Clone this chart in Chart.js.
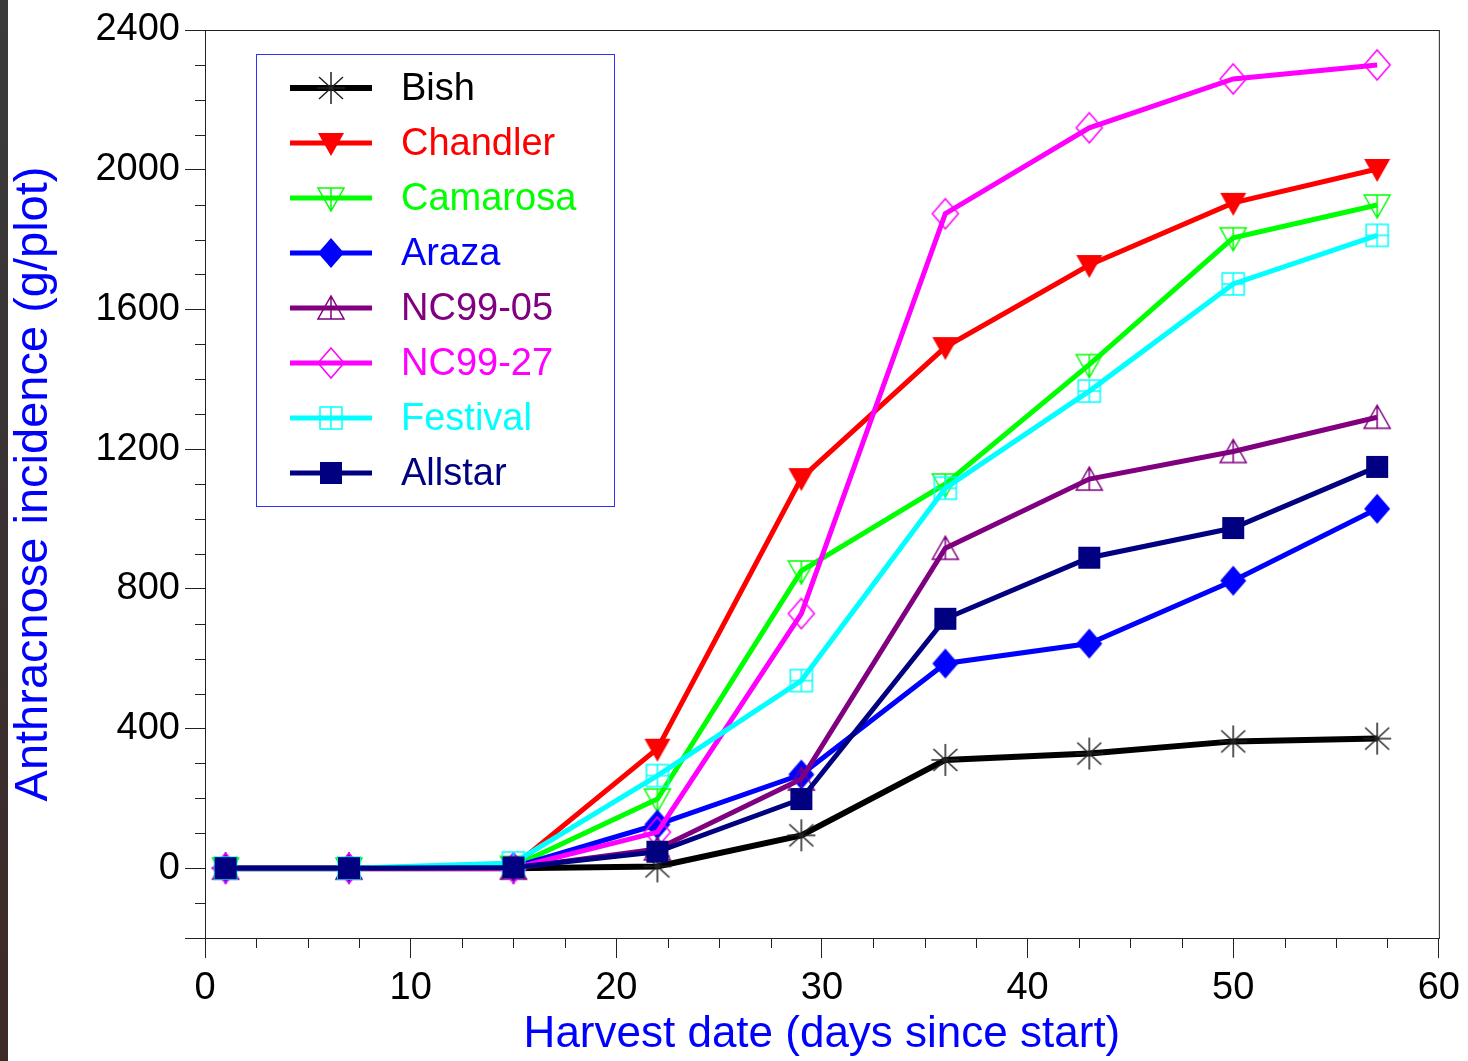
<!DOCTYPE html>
<html>
<head>
<meta charset="utf-8">
<script src="https://cdn.jsdelivr.net/npm/chart.js@4"></script>
<style>
  body { margin: 0; background: #fff; }
  #wrap { position: relative; width: 1468px; height: 1061px; }
  #edge { position: absolute; left: 0; top: 0; width: 8px; height: 1061px;
          background: linear-gradient(#3b3b3b, #3a3030 60%, #3e2a27); }
  canvas { display: block; background: #fff; }
</style>
</head>
<body>
<div id="wrap">
  <canvas id="chart" width="1468" height="1061"></canvas>
  <div id="edge"></div>
</div>
<script>
// harvest days and cumulative anthracnose incidence (g/plot)
var days = [1, 7, 15, 22, 29, 36, 43, 50, 57];

var bish     = [0, 0, 0, 5, 94, 310, 328, 363, 371];
var chandler = [0, 0, 5, 342, 1117, 1492, 1727, 1905, 2002];
var camarosa = [0, 0, 5, 198, 851, 1100, 1442, 1805, 1899];
var araza    = [0, 0, 3, 125, 268, 586, 643, 823, 1029];
var nc9905   = [0, 0, 0, 55, 255, 916, 1114, 1193, 1291];
var nc9927   = [0, 0, 0, 103, 729, 1874, 2120, 2260, 2300];
var festival = [0, 0, 15, 265, 537, 1088, 1366, 1673, 1812];
var allstar  = [0, 0, 2, 47, 198, 714, 889, 974, 1149];

var names   = ['Bish', 'Chandler', 'Camarosa', 'Araza', 'NC99-05', 'NC99-27', 'Festival', 'Allstar'];
var values  = [bish, chandler, camarosa, araza, nc9905, nc9927, festival, allstar];
var colours = ['#000000', '#ff0000', '#00ff00', '#0000ff', '#800080', '#ff00ff', '#00ffff', '#000080'];
var shapes  = ['star', 'downFilled', 'downOpen', 'diamondFilled', 'upOpen', 'diamondOpen', 'squareCross', 'squareFilled'];

var yTicks = [0, 400, 800, 1200, 1600, 2000, 2400];

// small canvases used as point styles
function marker(kind, color) {
    var c = document.createElement('canvas');
    c.width = 36; c.height = 36;
    var g = c.getContext('2d');
    g.translate(18, 18);
    g.strokeStyle = color;
    g.fillStyle = color;
    g.lineWidth = 1.5;
    g.beginPath();
    if (kind === 'star') {
        g.strokeStyle = '#222';
        g.moveTo(0, -16); g.lineTo(0, 16);
        g.moveTo(-12, -11); g.lineTo(12, 11);
        g.moveTo(-12, 11); g.lineTo(12, -11);
        g.moveTo(-14, 0); g.lineTo(14, 0);
        g.stroke();
    } else if (kind === 'downFilled' || kind === 'downOpen') {
        g.moveTo(-13, -10); g.lineTo(13, -10); g.lineTo(0, 13); g.closePath();
        if (kind === 'downFilled') { g.fill(); } else {
            g.moveTo(0, -10); g.lineTo(0, 13);
            g.stroke();
        }
    } else if (kind === 'upOpen') {
        g.moveTo(-13, 11); g.lineTo(13, 11); g.lineTo(0, -12); g.closePath();
        g.moveTo(0, -12); g.lineTo(0, 11);
        g.stroke();
    } else if (kind === 'diamondFilled' || kind === 'diamondOpen') {
        g.moveTo(0, -15); g.lineTo(13, 0); g.lineTo(0, 15); g.lineTo(-13, 0); g.closePath();
        if (kind === 'diamondFilled') { g.fill(); } else { g.stroke(); }
    } else if (kind === 'squareCross') {
        g.rect(-11, -11, 22, 22);
        g.moveTo(0, -11); g.lineTo(0, 11);
        g.moveTo(-11, 0); g.lineTo(11, 0);
        g.stroke();
    } else {
        g.rect(-11, -11, 22, 22);
        g.fill();
    }
    return c;
}

var markers = shapes.map(function(s, i) { return marker(s, colours[i]); });

var datasets = [];
for (var i = 0; i < names.length; i++) {
    datasets.push({
        label: names[i],
        data: days.map(function(d, j) { return { x: d, y: values[i][j] }; }),
        borderColor: colours[i],
        backgroundColor: colours[i],
        borderWidth: i === 0 ? 6 : 5,
        pointStyle: markers[i],
        pointRadius: 12,
        tension: 0,
        order: names.length - 1 - i
    });
}

// frame, minor ticks and the boxed legend
var extras = {
    id: 'extras',
    afterDraw: function(chart) {
        var ctx = chart.ctx, a = chart.chartArea;
        var xs = chart.scales.x, ys = chart.scales.y;
        ctx.save();
        ctx.strokeStyle = '#222';
        ctx.lineWidth = 1;
        ctx.strokeRect(a.left + 0.5, a.top + 0.5, a.right - a.left, a.bottom - a.top);
        ctx.beginPath();
        for (var v = -100; v < 2400; v += 100) {
            if (v % 400 === 0) continue;
            var py = Math.round(ys.getPixelForValue(v)) + 0.5;
            ctx.moveTo(a.left - 10, py); ctx.lineTo(a.left, py);
        }
        for (var u = 2.5; u < 60; u += 2.5) {
            if (u % 10 === 0) continue;
            var px = Math.round(xs.getPixelForValue(u)) + 0.5;
            ctx.moveTo(px, a.bottom); ctx.lineTo(px, a.bottom + 10);
        }
        ctx.stroke();

        ctx.strokeStyle = '#3030ff';
        ctx.strokeRect(256.5, 54.5, 358, 452);
        ctx.font = '38px "Liberation Sans", Arial, sans-serif';
        ctx.textBaseline = 'middle';
        for (var k = 0; k < names.length; k++) {
            var ry = 88 + k * 55;
            ctx.strokeStyle = colours[k];
            ctx.lineWidth = k === 0 ? 6 : 5;
            ctx.beginPath();
            ctx.moveTo(290, ry); ctx.lineTo(372, ry);
            ctx.stroke();
            ctx.drawImage(markers[k], 331 - 18, ry - 18);
            ctx.fillStyle = colours[k];
            ctx.fillText(names[k], 401, ry + 2);
        }
        ctx.restore();
    }
};

var tickFont = { family: '"Liberation Sans", Arial, sans-serif', size: 38 };
var xTitleFont = { family: '"Liberation Sans", Arial, sans-serif', size: 44 };
var yTitleFont = { family: '"Liberation Sans", Arial, sans-serif', size: 47 };

new Chart(document.getElementById('chart').getContext('2d'), {
    type: 'line',
    data: { datasets: datasets },
    options: {
        responsive: false,
        animation: false,
        layout: { padding: { top: 30, right: 22, left: 0, bottom: 0 } },
        plugins: { legend: { display: false }, tooltip: { enabled: false } },
        scales: {
            x: {
                type: 'linear',
                min: 0, max: 60,
                ticks: { stepSize: 10, color: '#000', font: tickFont, padding: 8, maxRotation: 0 },
                grid: { drawOnChartArea: false, tickLength: 20, tickColor: '#222' },
                border: { color: '#222' },
                title: { display: true, text: 'Harvest date (days since start)', color: '#0000ff',
                         font: xTitleFont, padding: { top: 0, bottom: 0 } },
                afterFit: function(s) { s.height = 123; }
            },
            y: {
                min: -200, max: 2400,
                ticks: {
                    stepSize: 400, color: '#000', font: tickFont, padding: 5,
                    callback: function(v) { return yTicks.indexOf(v) >= 0 ? String(v) : ''; }
                },
                grid: { drawOnChartArea: false, tickLength: 20, tickColor: '#222' },
                border: { color: '#222' },
                title: { display: true, text: 'Anthracnose incidence (g/plot)', color: '#0000ff',
                         font: yTitleFont, padding: { top: 6, bottom: 0 } },
                afterFit: function(s) { s.width = 205; }
            }
        }
    },
    plugins: [extras]
});
</script>
</body>
</html>
